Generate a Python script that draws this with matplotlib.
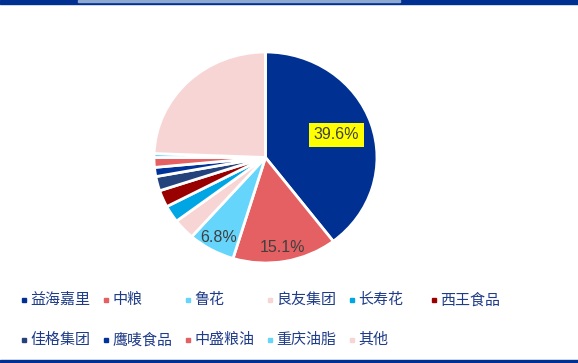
import numpy as np
import matplotlib.pyplot as plt
from matplotlib.patches import Rectangle

plt.rcParams['font.family'] = ['Noto Sans CJK SC', 'DejaVu Sans']

# data
names = ['益海嘉里', '中粮', '鲁花', '良友集团', '长寿花', '西王食品',
         '佳格集团', '鹰唛食品', '中盛粮油', '重庆油脂', '其他']
shares = [39.6, 15.1, 6.8, 3.2, 2.6, 2.6, 2.2, 1.4, 1.5, 0.6, 24.4]
colors = ['#003192', '#E46062', '#66D5FC', '#F8D5D5', '#00A6E3', '#990000',
          '#24427C', '#003399', '#E46062', '#66D5FC', '#F8D5D5']
shown = ['39.6%', '15.1%', '6.8%']

fig = plt.figure(figsize=(5.78, 3.63), dpi=100)

# frame lines top / bottom
fig.patches.append(Rectangle((0, 0.989), 1, 0.011, transform=fig.transFigure,
                             color='#003192', zorder=5))
fig.patches.append(Rectangle((0.135, 0.995), 0.557, 0.005, transform=fig.transFigure,
                             color='#8FA8D0', zorder=6))
fig.patches.append(Rectangle((0, 0), 1, 0.008, transform=fig.transFigure,
                             color='#003192', zorder=5))

ax = fig.add_axes([0.2664, 0.2755, 0.3858, 0.5813])
wedges, _ = ax.pie(shares, colors=colors, startangle=90, counterclock=False,
                   wedgeprops=dict(edgecolor='white', linewidth=2))
ax.set_aspect('auto')
ax.set_xlim(-1, 1)
ax.set_ylim(-1, 1)
ax.axis('off')

# percentage labels for the three biggest brands
dists = [0.67, 0.87, 0.87]
for i, lab in enumerate(shown):
    w = wedges[i]
    mid = np.deg2rad((w.theta1 + w.theta2) / 2)
    x, y = dists[i] * np.cos(mid), dists[i] * np.sin(mid)
    box = dict(boxstyle='square,pad=0.3', fc='#FFFF00', ec='none') if i == 0 else None
    ax.text(x, y, lab, ha='center', va='center', fontsize=11.5, color='#404040',
            family=['Liberation Sans', 'DejaVu Sans'], bbox=box)

# legend, 6 per row
for i, name in enumerate(names):
    row, col = divmod(i, 6)
    px = 22 + col * 82
    py = 300 + row * 40
    fig.patches.append(Rectangle((px / 578, 1 - (py + 2) / 363), 4 / 578, 4 / 363,
                                 transform=fig.transFigure, color=colors[i]))
    fig.text((px + 8) / 578, 1 - py / 363, name, ha='left', va='center',
             fontsize=10.8, color='#1F3C88')

fig.savefig('out.png', dpi=100)
